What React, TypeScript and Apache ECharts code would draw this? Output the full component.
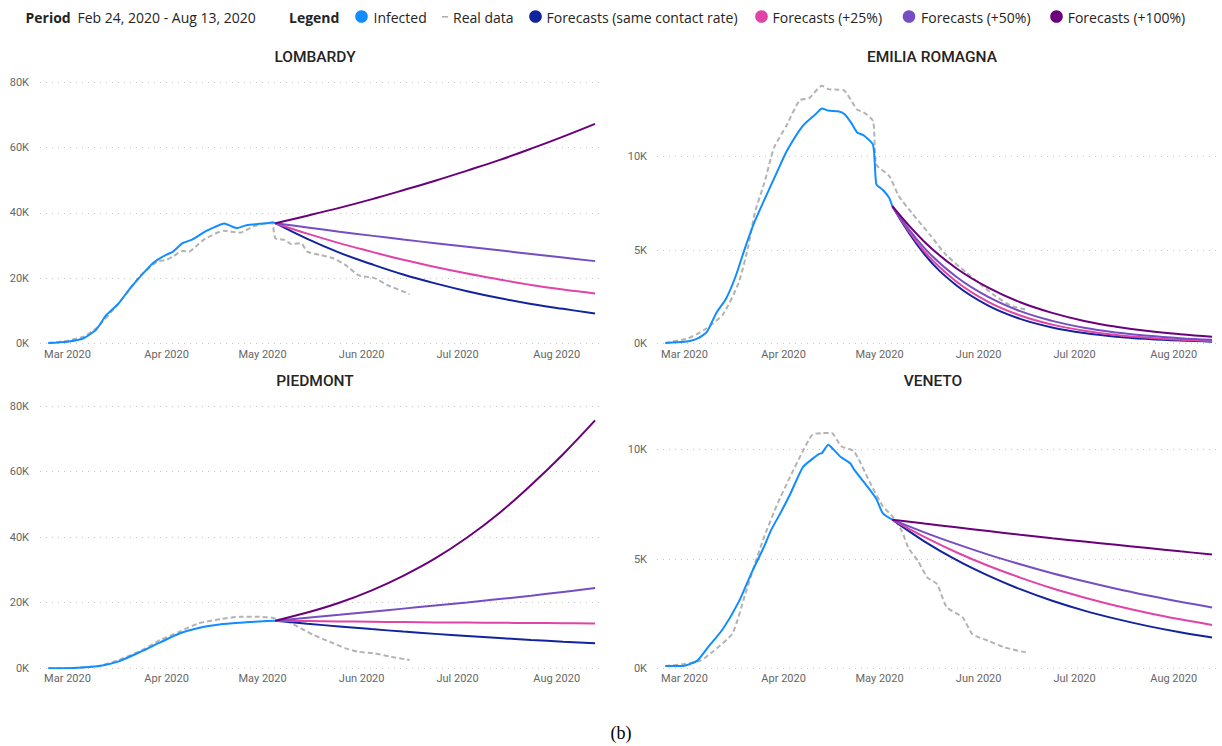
import React, { useEffect, useRef } from 'react';
import * as echarts from 'echarts';

// ---------- data ----------
const MONTH_TICKS = ['2020-03-01', '2020-04-01', '2020-05-01', '2020-06-01', '2020-07-01', '2020-08-01'];
const MONTH_NAMES = ['Jan', 'Feb', 'Mar', 'Apr', 'May', 'Jun', 'Jul', 'Aug', 'Sep', 'Oct', 'Nov', 'Dec'];
const PERIOD_START = '2020-02-24';
const PERIOD_END = '2020-08-13';

const FORECAST_DATES = ['2020-05-05', '2020-05-15', '2020-05-25', '2020-06-04', '2020-06-14', '2020-06-24',
  '2020-07-04', '2020-07-14', '2020-07-24', '2020-08-03', '2020-08-13'];
const FORECAST_NAMES = ['Forecasts (same contact rate)', 'Forecasts (+25%)', 'Forecasts (+50%)', 'Forecasts (+100%)'];
const FORECAST_COLORS = ['#12239E', '#E044A7', '#744EC2', '#6B007B'];

const lombardyInfected: [string, number][] = [
  ['2020-02-24', 150], ['2020-03-01', 550], ['2020-03-06', 1600], ['2020-03-10', 4300], ['2020-03-13', 8500],
  ['2020-03-17', 12300], ['2020-03-21', 17400], ['2020-03-27', 23900], ['2020-03-29', 25500], ['2020-04-01', 27200],
  ['2020-04-03', 28100], ['2020-04-06', 30700], ['2020-04-09', 31800], ['2020-04-13', 34200], ['2020-04-16', 35600],
  ['2020-04-19', 36700], ['2020-04-21', 36000], ['2020-04-23', 35300], ['2020-04-26', 36200], ['2020-04-30', 36600],
  ['2020-05-03', 36900], ['2020-05-04', 37100], ['2020-05-05', 36800],
];
const lombardyReal: [string, number][] = [
  ['2020-02-24', 150], ['2020-03-01', 850], ['2020-03-06', 2100], ['2020-03-10', 4650], ['2020-03-17', 12300],
  ['2020-03-24', 20900], ['2020-03-29', 25000], ['2020-04-01', 25600], ['2020-04-03', 26600], ['2020-04-06', 28300],
  ['2020-04-08', 28100], ['2020-04-10', 29600], ['2020-04-13', 32000], ['2020-04-19', 34500], ['2020-04-21', 34200],
  ['2020-04-24', 33900], ['2020-04-28', 35800], ['2020-05-02', 36800], ['2020-05-04', 36800], ['2020-05-05', 32200],
  ['2020-05-08', 31700], ['2020-05-10', 30400], ['2020-05-13', 30700], ['2020-05-15', 28100], ['2020-05-19', 27100],
  ['2020-05-23', 26100], ['2020-05-27', 24000], ['2020-05-31', 20900], ['2020-06-05', 20000], ['2020-06-09', 17900],
  ['2020-06-16', 15100],
];
const lombardySame = [36800, 32000, 27800, 24300, 21100, 18400, 16000, 13900, 12100, 10600, 9200];
const lombardy25 = [36800, 33600, 30700, 28100, 25600, 23400, 21400, 19600, 17900, 16500, 15300];
const lombardy50 = [36800, 35500, 34200, 33000, 31800, 30700, 29600, 28500, 27400, 26300, 25200];
const lombardy100 = [36800, 39100, 41500, 44100, 46900, 49800, 52900, 56100, 59600, 63300, 67200];

const emiliaInfected: [string, number][] = [
  ['2020-02-24', 30], ['2020-03-01', 90], ['2020-03-05', 260], ['2020-03-08', 620], ['2020-03-11', 1650],
  ['2020-03-14', 2400], ['2020-03-17', 3600], ['2020-03-20', 5150], ['2020-03-23', 6550], ['2020-03-27', 8080],
  ['2020-03-30', 9200], ['2020-04-02', 10300], ['2020-04-07', 11650], ['2020-04-11', 12270], ['2020-04-13', 12580],
  ['2020-04-15', 12470], ['2020-04-18', 12430], ['2020-04-20', 12290], ['2020-04-22', 11850], ['2020-04-24', 11300],
  ['2020-04-26', 11150], ['2020-04-29', 10620], ['2020-04-30', 8530], ['2020-05-02', 8230], ['2020-05-04', 7800],
  ['2020-05-05', 7350],
];
const emiliaReal: [string, number][] = [
  ['2020-02-24', 30], ['2020-03-02', 270], ['2020-03-07', 710], ['2020-03-13', 1550], ['2020-03-18', 3280],
  ['2020-03-21', 5240], ['2020-03-23', 7010], ['2020-03-26', 8610], ['2020-03-29', 10480], ['2020-04-02', 11700],
  ['2020-04-06', 13020], ['2020-04-09', 13140], ['2020-04-13', 13800], ['2020-04-15', 13620], ['2020-04-18', 13590],
  ['2020-04-20', 13550], ['2020-04-24', 12520], ['2020-04-26', 12380], ['2020-04-29', 11900], ['2020-04-30', 9590],
  ['2020-05-04', 8970], ['2020-05-07', 7900], ['2020-05-11', 7010], ['2020-05-17', 5770], ['2020-05-22', 4710],
  ['2020-05-28', 3820], ['2020-06-02', 3110], ['2020-06-06', 2570], ['2020-06-11', 2040], ['2020-06-16', 1800],
];
const emiliaSame = [7350, 4790, 3120, 2030, 1320, 860, 560, 365, 240, 155, 100];
const emilia25 = [7350, 4940, 3320, 2230, 1500, 1010, 680, 455, 305, 205, 140];
const emilia50 = [7350, 5120, 3570, 2490, 1730, 1210, 840, 590, 410, 285, 200];
const emilia100 = [7350, 5450, 4030, 2990, 2210, 1640, 1210, 900, 665, 495, 365];

const piedmontInfected: [string, number][] = [
  ['2020-02-24', 0], ['2020-03-03', 100], ['2020-03-11', 700], ['2020-03-17', 2100], ['2020-03-24', 5100],
  ['2020-03-30', 7900], ['2020-04-05', 10600], ['2020-04-11', 12300], ['2020-04-18', 13400], ['2020-04-24', 13900],
  ['2020-04-30', 14300], ['2020-05-05', 14500],
];
const piedmontReal: [string, number][] = [
  ['2020-02-24', 0], ['2020-03-03', 100], ['2020-03-11', 750], ['2020-03-17', 2500], ['2020-03-24', 5400],
  ['2020-03-30', 8620], ['2020-04-05', 11150], ['2020-04-11', 13700], ['2020-04-18', 15020], ['2020-04-24', 15720],
  ['2020-04-30', 15720], ['2020-05-04', 15410], ['2020-05-09', 14190], ['2020-05-13', 12180], ['2020-05-17', 10140],
  ['2020-05-22', 8100], ['2020-05-27', 6090], ['2020-05-31', 5060], ['2020-06-05', 4570], ['2020-06-10', 3530],
  ['2020-06-16', 2530],
];
const piedmontSame = [14500, 13600, 12750, 11950, 11200, 10500, 9850, 9240, 8660, 8120, 7620];
const piedmont25 = [14500, 14400, 14300, 14200, 14100, 14000, 13950, 13880, 13820, 13760, 13700];
const piedmont50 = [14500, 15400, 16300, 17250, 18200, 19150, 20100, 21100, 22150, 23300, 24500];
const piedmont100 = [14500, 17000, 20000, 23700, 28200, 33500, 39900, 47300, 55900, 65300, 75600];

const venetoInfected: [string, number][] = [
  ['2020-02-24', 100], ['2020-03-01', 120], ['2020-03-05', 350], ['2020-03-08', 900], ['2020-03-13', 1800],
  ['2020-03-18', 3050], ['2020-03-22', 4380], ['2020-03-26', 5600], ['2020-03-28', 6300], ['2020-03-31', 7100],
  ['2020-04-03', 7950], ['2020-04-07', 9200], ['2020-04-10', 9580], ['2020-04-12', 9800], ['2020-04-13', 9850],
  ['2020-04-15', 10230], ['2020-04-16', 10100], ['2020-04-19', 9650], ['2020-04-21', 9470], ['2020-04-22', 9350],
  ['2020-04-23', 9100], ['2020-04-27', 8350], ['2020-04-30', 7750], ['2020-05-02', 7100], ['2020-05-05', 6800],
];
const venetoReal: [string, number][] = [
  ['2020-02-24', 100], ['2020-03-01', 200], ['2020-03-06', 350], ['2020-03-10', 780], ['2020-03-16', 1600],
  ['2020-03-20', 3390], ['2020-03-23', 4760], ['2020-03-26', 6050], ['2020-03-30', 7500], ['2020-04-03', 8750],
  ['2020-04-07', 9930], ['2020-04-10', 10690], ['2020-04-13', 10760], ['2020-04-16', 10760], ['2020-04-19', 10160],
  ['2020-04-23', 9930], ['2020-04-28', 8500], ['2020-05-02', 7420], ['2020-05-05', 6960], ['2020-05-08', 6280],
  ['2020-05-10', 5520], ['2020-05-13', 4910], ['2020-05-16', 4150], ['2020-05-19', 3850], ['2020-05-22', 2800],
  ['2020-05-27', 2330], ['2020-05-30', 1570], ['2020-06-04', 1260], ['2020-06-09', 960], ['2020-06-16', 720],
];
const venetoSame = [6800, 5810, 4960, 4240, 3620, 3090, 2640, 2260, 1930, 1650, 1410];
const veneto25 = [6800, 6010, 5310, 4690, 4150, 3660, 3240, 2860, 2530, 2240, 1980];
const veneto50 = [6800, 6220, 5690, 5200, 4760, 4350, 3980, 3640, 3330, 3040, 2780];
const veneto100 = [6800, 6620, 6450, 6280, 6110, 5950, 5800, 5650, 5500, 5350, 5210];

const REGION_NAMES = ['LOMBARDY', 'EMILIA ROMAGNA', 'PIEDMONT', 'VENETO'];
const Y_MAX = [80000, 14000, 80000, 12000];
const Y_INTERVAL = [20000, 5000, 20000, 5000];

// ---------- helpers ----------
const ts = (s: string) => {
  const [y, m, d] = s.split('-').map(Number);
  return new Date(y, m - 1, d).getTime();
};
const DAY = 86400000;

const FONT = '"Segoe UI", "Open Sans", sans-serif';
const AXIS_FONT = 'Roboto, "DejaVu Sans", sans-serif';

export default function App() {
  const ref = useRef<HTMLDivElement>(null);

  useEffect(() => {
    if (!ref.current) return;
    const chart = echarts.init(ref.current, undefined, { renderer: 'svg' });

    const regions = [
      { infected: lombardyInfected, real: lombardyReal, fc: [lombardySame, lombardy25, lombardy50, lombardy100] },
      { infected: emiliaInfected, real: emiliaReal, fc: [emiliaSame, emilia25, emilia50, emilia100] },
      { infected: piedmontInfected, real: piedmontReal, fc: [piedmontSame, piedmont25, piedmont50, piedmont100] },
      { infected: venetoInfected, real: venetoReal, fc: [venetoSame, veneto25, veneto50, veneto100] },
    ];

    const grids = [
      { left: 40, top: 82, width: 564, height: 261.5 },
      { left: 657, top: 82, width: 564, height: 261.5 },
      { left: 40, top: 406, width: 564, height: 262.3 },
      { left: 657, top: 406, width: 564, height: 262.3 },
    ];
    const titlePos = [
      [315, 57], [932, 57], [315, 381], [933, 381],
    ];

    const xMin = ts(PERIOD_START) - 2.6 * DAY;
    const xMax = ts(PERIOD_END) + 2.8 * DAY;

    const xAxes = grids.map((_, i) => ({
      type: 'value',
      gridIndex: i,
      min: xMin,
      max: xMax,
      axisLine: { show: false },
      axisTick: { show: false },
      splitLine: { show: false },
      axisLabel: {
        customValues: MONTH_TICKS.map(ts),
        formatter: (v: number) => {
          const d = new Date(v);
          return MONTH_NAMES[d.getMonth()] + ' ' + d.getFullYear();
        },
        color: '#666666',
        fontFamily: AXIS_FONT,
        fontSize: 11,
        margin: 5,
        hideOverlap: false,
      },
    }));

    const yAxes = grids.map((_, i) => ({
      type: 'value',
      gridIndex: i,
      min: 0,
      max: Y_MAX[i],
      interval: Y_INTERVAL[i],
      axisLine: { show: false },
      axisTick: { show: false },
      axisLabel: {
        formatter: (v: number) => (v % Y_INTERVAL[i] === 0 ? Math.round(v / 1000) + 'K' : ''),
        showMaxLabel: Y_MAX[i] % Y_INTERVAL[i] === 0,
        color: '#666666',
        fontFamily: AXIS_FONT,
        fontSize: 11,
        margin: i % 2 === 0 ? 11 : 10,
      },
      splitLine: {
        show: true,
        showMaxLine: Y_MAX[i] % Y_INTERVAL[i] === 0,
        lineStyle: { color: '#C8C6C4', width: 1, type: [1, 5] },
      },
    }));

    const series: any[] = [];
    regions.forEach((r, i) => {
      series.push({
        type: 'line', name: 'Real data', xAxisIndex: i, yAxisIndex: i,
        data: r.real.map(([d, v]) => [ts(d), v]),
        showSymbol: false, smooth: 0.2, silent: true,
        lineStyle: { color: '#B3B3B3', width: 2, type: [5, 3] },
        itemStyle: { color: '#B3B3B3' },
      });
      series.push({
        type: 'line', name: 'Infected', xAxisIndex: i, yAxisIndex: i,
        data: r.infected.map(([d, v]) => [ts(d), v]),
        showSymbol: false, smooth: 0.2, silent: true,
        lineStyle: { color: '#118DFF', width: 2 },
        itemStyle: { color: '#118DFF' },
      });
      r.fc.forEach((vals, k) => {
        series.push({
          type: 'line', name: FORECAST_NAMES[k], xAxisIndex: i, yAxisIndex: i,
          data: FORECAST_DATES.map((d, j) => [ts(d), vals[j]]),
          showSymbol: false, smooth: 0.4, silent: true,
          lineStyle: { color: FORECAST_COLORS[k], width: 2 },
          itemStyle: { color: FORECAST_COLORS[k] },
        });
      });
    });

    const txt = (text: string, x: number, y: number, opts: any = {}) => ({
      type: 'text', x, y, silent: true,
      style: {
        text, fill: opts.fill || '#252423',
        font: opts.font || `14px ${FONT}`,
        textAlign: opts.align || 'left', align: opts.align || 'left',
        textVerticalAlign: 'middle', verticalAlign: 'middle',
      },
    });
    const dot = (cx: number, color: string) => ({
      type: 'circle', silent: true, shape: { cx, cy: 16.5, r: 6.3 }, style: { fill: color },
    });

    const graphic: any[] = [
      txt('Period', 25.5, 17, { font: `bold 14px ${FONT}` }),
      txt(`${'Feb 24, 2020'} - ${'Aug 13, 2020'}`, 77.5, 17),
      txt('Legend', 289, 17, { font: `bold 14px ${FONT}` }),
      dot(361.5, '#118DFF'),
      txt('Infected', 373.5, 17),
      { type: 'rect', silent: true, shape: { x: 442, y: 16, width: 6, height: 1.6 }, style: { fill: '#B3B3B3' } },
      txt('Real data', 453, 17),
      dot(535.5, FORECAST_COLORS[0]),
      txt(FORECAST_NAMES[0], 546.5, 17),
      dot(761.5, FORECAST_COLORS[1]),
      txt(FORECAST_NAMES[1], 772.5, 17),
      dot(909, FORECAST_COLORS[2]),
      txt(FORECAST_NAMES[2], 921, 17),
      dot(1056.5, FORECAST_COLORS[3]),
      txt(FORECAST_NAMES[3], 1067.7, 17),
      txt('(b)', 621, 733, { font: '18px "Liberation Serif", "DejaVu Serif", serif', fill: '#000000', align: 'center' }),
    ];
    REGION_NAMES.forEach((n, i) => {
      graphic.push(txt(n, titlePos[i][0], titlePos[i][1], {
        font: `500 15.5px ${AXIS_FONT}`, fill: '#252423', align: 'center',
      }));
    });

    chart.setOption({
      animation: false,
      backgroundColor: '#ffffff',
      grid: grids,
      xAxis: xAxes,
      yAxis: yAxes,
      series,
      graphic,
    });

    return () => chart.dispose();
  }, []);

  return (
    <div
      ref={ref}
      style={{ position: 'fixed', left: 0, top: 0, width: 1222, height: 746, background: '#fff' }}
    />
  );
}
